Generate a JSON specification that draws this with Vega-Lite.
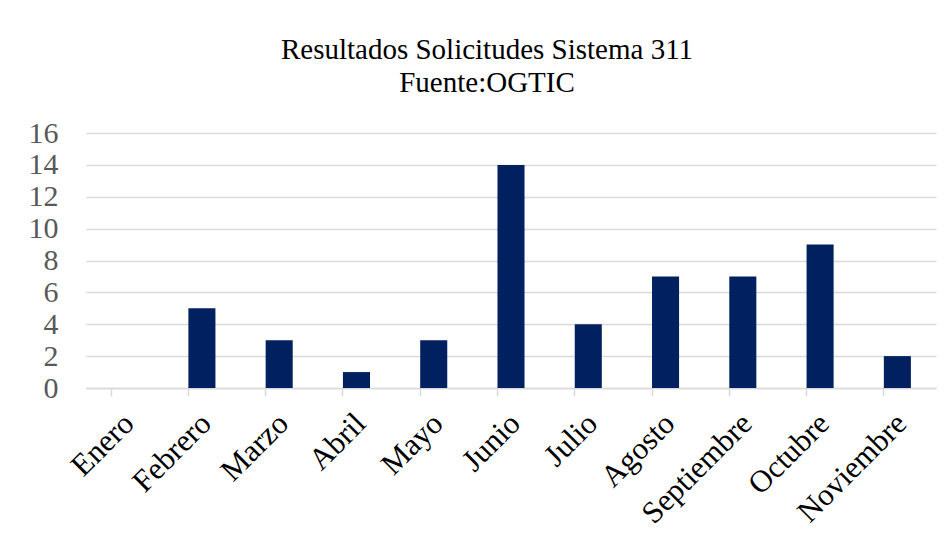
{
  "$schema": "https://vega.github.io/schema/vega-lite/v6.json",
  "width": 850,
  "height": 255,
  "autosize": {"type": "none"},
  "padding": {"left": 86, "top": 133, "right": 16, "bottom": 164},
  "background": "white",
  "config": {
    "font": "Liberation Serif",
    "view": {"stroke": null}
  },
  "title": {
    "text": ["Resultados Solicitudes Sistema 311", "Fuente:OGTIC"],
    "fontSize": 29,
    "fontWeight": "normal",
    "font": "Liberation Serif",
    "color": "#000000",
    "anchor": "middle",
    "dx": -24,
    "offset": 20,
    "lineHeight": 33
  },
  "data": {
    "values": [
      {"mes": "Enero", "valor": 0},
      {"mes": "Febrero", "valor": 5},
      {"mes": "Marzo", "valor": 3},
      {"mes": "Abril", "valor": 1},
      {"mes": "Mayo", "valor": 3},
      {"mes": "Junio", "valor": 14},
      {"mes": "Julio", "valor": 4},
      {"mes": "Agosto", "valor": 7},
      {"mes": "Septiembre", "valor": 7},
      {"mes": "Octubre", "valor": 9},
      {"mes": "Noviembre", "valor": 2}
    ]
  },
  "mark": {"type": "bar", "color": "#002060"},
  "encoding": {
    "x": {
      "field": "mes",
      "type": "nominal",
      "sort": null,
      "title": null,
      "scale": {"paddingInner": 0.65, "paddingOuter": 0.325},
      "axis": {
        "labelAngle": -45,
        "labelFontSize": 31,
        "labelColor": "#000000",
        "labelFont": "Liberation Serif",
        "domainColor": "#d9d9d9",
        "domainWidth": 1.5,
        "tickColor": "#d9d9d9",
        "tickWidth": 1.5,
        "tickSize": 8,
        "bandPosition": 0,
        "labelPadding": 12,
        "labelOffset": -6,
        "grid": false
      }
    },
    "y": {
      "field": "valor",
      "type": "quantitative",
      "title": null,
      "scale": {"domain": [0, 16], "nice": false},
      "axis": {
        "values": [0, 2, 4, 6, 8, 10, 12, 14, 16],
        "labelFontSize": 30,
        "labelColor": "#595959",
        "labelFont": "Liberation Serif",
        "domain": false,
        "ticks": false,
        "labelPadding": 28,
        "gridColor": "#d9d9d9",
        "gridWidth": 1.5
      }
    }
  }
}
